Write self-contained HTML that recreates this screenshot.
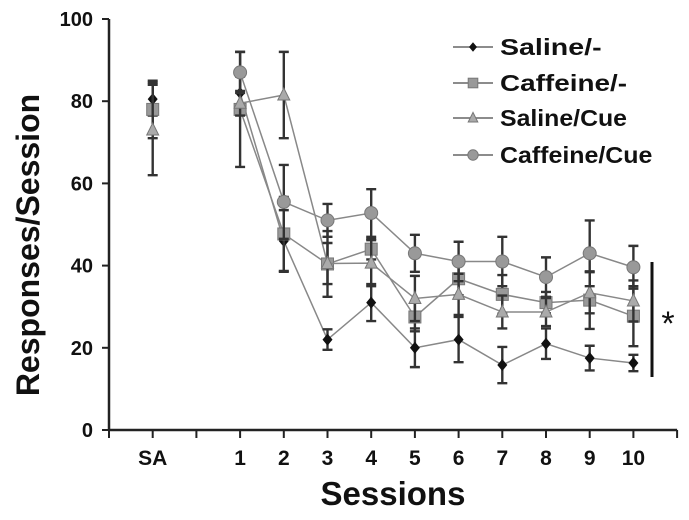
<!DOCTYPE html>
<html><head><meta charset="utf-8"><style>
body{margin:0;background:#fff;}
svg{display:block;font-family:"Liberation Sans",sans-serif;}
</style></head><body>
<svg id="c" width="689" height="520"></svg>
<script>
const categories=["SA","","1","2","3","4","5","6","7","8","9","10"];
const seriesNames=["Saline/-","Caffeine/-","Saline/Cue","Caffeine/Cue"];
const salineNone=[80.5,82,46,22,31,20,22,15.8,21,17.5,16.3];
const caffeineNone=[78,78,47.7,40.4,44,27.5,36.8,33,31,31.6,27.7];
const salineCue=[73,79.5,81.5,40.5,40.6,32,33,28.7,28.7,33.4,31.4];
const caffeineCue=[null,87,55.5,51,52.8,43,41,41,37.2,43,39.6];
const salineNoneErr=[4,4,7.5,2.5,4.5,4.7,5.5,4.4,3.7,3,2];
const caffeineNoneErr=[7,14,9,8,2.5,3.5,4,4.7,2.6,7,7.3];
const salineCueErr=[11,3,10.5,5,5.6,5.5,5,4,3.4,5,5];
const caffeineCueErr=[0,5,9,4,5.8,4.5,4.8,6,4.8,8,5.2];
const yTicks=[0,20,40,60,80,100];
const NS="http://www.w3.org/2000/svg";
const svg=document.getElementById('c');
function el(t,a,p){const e=document.createElementNS(NS,t);for(const k in a)e.setAttribute(k,a[k]);(p||svg).appendChild(e);return e;}
const X0=109,STEP=43.7,Y0=430,YS=4.11;
function xPos(i){return X0+(i+1)*STEP;}
function xData(j){return j===0?xPos(0):xPos(j+1);}
function yPos(v){return Y0-v*YS;}
let a=el('line',{x1:X0,y1:yPos(100),x2:X0,y2:Y0,stroke:'#222','stroke-width':2.5});


a=el('line',{x1:X0,y1:Y0,x2:xPos(12),y2:Y0,stroke:'#222','stroke-width':2.5});


yTicks.forEach(v=>{
 const t=el('line',{x1:X0-7,x2:X0,y1:yPos(v),y2:yPos(v),stroke:'#222','stroke-width':2});
 
 
 const l=el('text',{x:X0-16,y:yPos(v)+7,'text-anchor':'end','font-size':20,'font-weight':'bold',fill:'#111'});
 l.textContent=v;
 
 
});
for(let i=-1;i<=12;i++){
 const t=el('line',{x1:xPos(i),x2:xPos(i),y1:Y0,y2:Y0+8,stroke:'#222','stroke-width':2});
 
 
}
categories.forEach((c,i)=>{
 if(!c)return;
 const l=el('text',{x:xPos(i),y:Y0+35,'text-anchor':'middle','font-size':21,'font-weight':'bold',fill:'#111'});
 l.textContent=c;
 
 
});
let t=el('text',{x:393,y:505,'text-anchor':'middle','font-size':33,'font-weight':'bold',fill:'#111'});
t.textContent='Sessions';


t=el('text',{x:0,y:0,'text-anchor':'middle','font-size':32,'font-weight':'bold',fill:'#111',transform:'translate(39,245) rotate(-90)'});
t.textContent='Responses/Session';


const series=[salineNone,caffeineNone,salineCue,caffeineCue];
const errs=[salineNoneErr,caffeineNoneErr,salineCueErr,caffeineCueErr];
const shapes=['diamond','square','triangle','circle'];
function marker(g,shape,x,y,s){
 let m;
 if(shape==='diamond')m=el('polygon',{points:`${x},${y-6*s} ${x+5*s},${y} ${x},${y+6*s} ${x-5*s},${y}`,fill:'#111'},g);
 else if(shape==='square')m=el('rect',{x:x-6*s,y:y-6*s,width:12*s,height:12*s,fill:'#999',stroke:'#777','stroke-width':1},g);
 else if(shape==='triangle')m=el('polygon',{points:`${x},${y-7*s} ${x+6*s},${y+5*s} ${x-6*s},${y+5*s}`,fill:'#aaa',stroke:'#777','stroke-width':1},g);
 else m=el('circle',{cx:x,cy:y,r:6.5*s,fill:'#999',stroke:'#777','stroke-width':1},g);
 return m;
}
series.forEach((vals,si)=>{
 const g=el('g',{});
 
 
 const pts=[];
 vals.forEach((v,j)=>{if(v!==null&&j>0)pts.push(xData(j)+','+yPos(v));});
 el('polyline',{points:pts.join(' '),fill:'none',stroke:'#888','stroke-width':1.5},g);
 vals.forEach((v,j)=>{
  if(v===null)return;
  const x=xData(j),e=errs[si][j];
  if(e>0){
   const eb=el('path',{d:`M${x},${yPos(v+e)}V${yPos(v-e)}M${x-5},${yPos(v+e)}h10M${x-5},${yPos(v-e)}h10`,stroke:'#333','stroke-width':2.4,fill:'none'},g);
   
   
  }
  const m=marker(g,shapes[si],x,yPos(v),1);
  
  
 });
});
const legYs=[47,83,118,155];
seriesNames.forEach((n,i)=>{
 const g=el('g',{});
 
 
 el('line',{x1:453,x2:493,y1:legYs[i],y2:legYs[i],stroke:'#666','stroke-width':1.5},g);
 marker(g,shapes[i],473,legYs[i],0.8);
 const tx=el('text',{x:500,y:legYs[i]+8,'font-size':23,'font-weight':'bold',fill:'#111','textLength':n.length*12.7,'lengthAdjust':'spacingAndGlyphs'},g);
 tx.textContent=n;
});
a=el('line',{x1:652,x2:652,y1:262,y2:377,stroke:'#111','stroke-width':3});


t=el('text',{x:668,y:335,'text-anchor':'middle','font-size':34,fill:'#111'});
t.textContent='*';


</script>
</body></html>
